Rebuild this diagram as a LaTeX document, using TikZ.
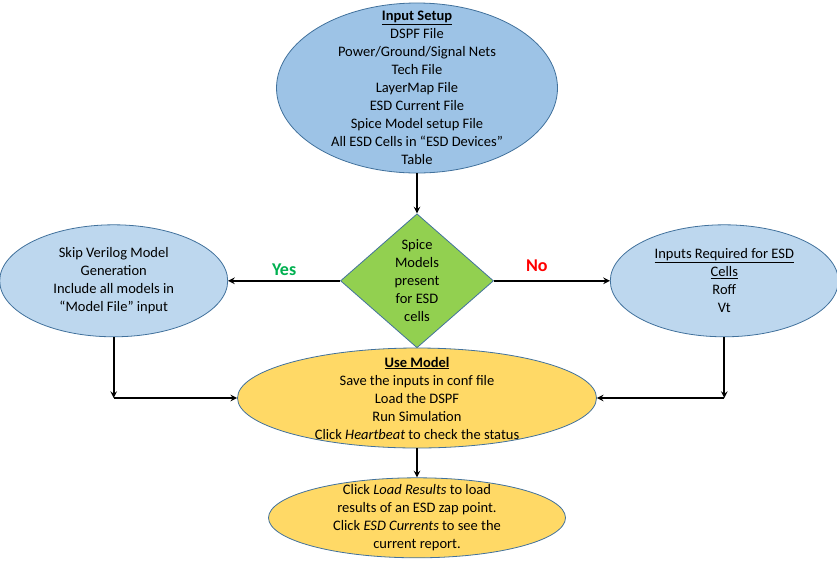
\documentclass[tikz,border=0pt]{standalone}
\usepackage{fontspec}
\setmainfont{Carlito}
\usetikzlibrary{shapes,positioning}
\definecolor{setupblue}{HTML}{9DC3E6}
\definecolor{sideblue}{HTML}{BDD7EE}
\definecolor{edgeblue}{HTML}{41719C}
\definecolor{decgreen}{HTML}{92D050}
\definecolor{useyellow}{HTML}{FFD966}
\definecolor{yesgreen}{HTML}{00B050}
\definecolor{nored}{HTML}{FF0000}
\tikzstyle{txt}=[align=center, font=\fontsize{14.5}{18}\selectfont]
\tikzstyle{setupell}=[ellipse, draw=edgeblue, line width=0.8pt, fill=setupblue, txt, inner xsep=0pt, inner ysep=-22pt, minimum width=281pt, minimum height=170pt]
\tikzstyle{sideell}=[ellipse, draw=edgeblue, line width=0.8pt, fill=sideblue, txt, inner sep=0pt, minimum width=228pt, minimum height=112pt]
\tikzstyle{useell}=[ellipse, draw=edgeblue, line width=0.8pt, fill=useyellow, txt, inner xsep=0pt, inner ysep=-10pt, minimum width=359pt, minimum height=100pt]
\tikzstyle{decide}=[diamond, draw=edgeblue, line width=0.8pt, fill=decgreen, txt, inner sep=0pt, aspect=1.14, minimum width=153pt, minimum height=134pt]
\tikzstyle{answer}=[font=\fontsize{18}{20}\selectfont\bfseries]

\begin{document}
\begin{tikzpicture}[-stealth, line width=1.9pt, x=1pt, y=-1pt]

\useasboundingbox (0,0) rectangle (837,563);

\node[setupell] (setup) at (417,88) {\textbf{\underline{Input Setup}}\\DSPF File\\Power/Ground/Signal Nets\\Tech File\\LayerMap File\\ESD Current File\\Spice Model setup File\\All ESD Cells in “ESD Devices”\\Table};
\node[decide] (spice) [below=40pt of setup] {Spice\\Models\\present\\for ESD\\cells};
\node[sideell] (skip) [left=112pt of spice] {Skip Verilog Model\\Generation\\Include all models in\\“Model File” input};
\node[sideell] (esdin) [right=116pt of spice] {\underline{Inputs Required for ESD}\\\underline{Cells}\\Roff\\Vt};
\node[useell] (use) at (417,398) {\textbf{\underline{Use Model}}\\Save the inputs in conf file\\Load the DSPF\\Run Simulation\\Click \textit{Heartbeat} to check the status};
\node[useell, inner ysep=-8pt, minimum width=297pt, minimum height=80pt] (load) [below=29pt of use] {Click \textit{Load Results} to load\\results of an ESD zap point.\\Click \textit{ESD Currents} to see the\\current report.};

\coordinate (lc) at (skip.south |- use.west);
\coordinate (rc) at (esdin.south |- use.east);

\draw (setup) -- (spice);
\draw (spice) -- node[answer, above=1pt, text=yesgreen] {Yes} (skip);
\draw (spice) -- node[answer, above=5pt, pos=0.37, text=nored] {No} (esdin);
\draw (skip) -- (lc); %% elbow tips point down like the source
\draw (lc) -- (use);
\draw (esdin) -- (rc);
\draw (rc) -- (use);
\draw (use) -- (load);

\end{tikzpicture}
\end{document}
